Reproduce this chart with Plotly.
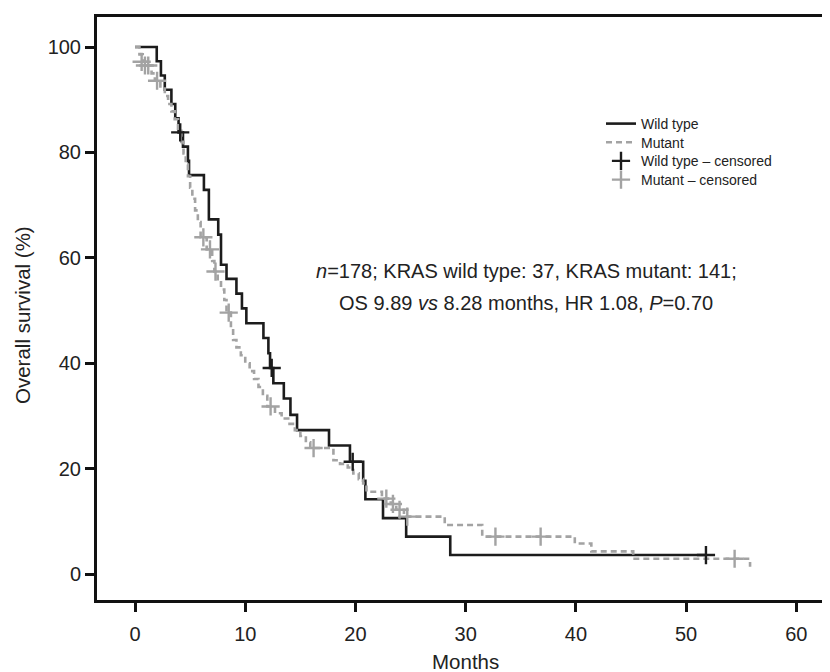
import plotly.graph_objects as go

# ---- data ----
wt_time = [0, 1.97, 2.35, 2.7, 3.3, 3.65, 3.95, 4.35, 4.8, 4.9, 6.25, 6.7, 7.55, 7.8,
           8.3, 9.2, 9.7, 10.1, 11.65, 12.1, 12.25, 12.55, 13.5, 14.1, 14.7, 17.6,
           19.5, 20.7, 20.9, 22.5, 24.6, 28.6, 51.8]
wt_surv = [100, 97.3, 94.6, 91.9, 89.2, 86.5, 83.8, 81.1, 78.4, 75.7, 72.9, 67.3, 64.4, 58.7,
           56.0, 53.2, 50.4, 47.6, 44.8, 41.9, 39.1, 36.2, 33.3, 30.2, 27.3, 24.4,
           21.3, 17.7, 14.2, 10.6, 7.1, 3.6, 3.6]
wt_cens_time = [4.1, 12.4, 19.75, 51.8]
wt_cens_surv = [83.8, 39.1, 21.3, 3.6]

mut_time = [0, 0.4, 0.7, 1.0, 1.5, 1.8, 2.3, 2.7, 3.0, 3.3, 3.6, 3.9, 4.2, 4.4, 4.6, 4.8,
            5.0, 5.2, 5.45, 5.7, 5.95, 6.5, 7.0, 7.2, 7.5, 7.8, 8.1, 8.3, 8.7, 8.9, 9.2,
            9.6, 10.0, 10.4, 10.8, 11.2, 11.6, 12.0, 12.7, 13.3, 13.9, 14.5, 15.0, 15.5,
            15.9, 18.0, 18.6, 19.3, 19.8, 20.3, 20.7, 21.0, 22.4, 23.2, 23.7, 24.4, 28.1,
            31.5, 39.9, 41.4, 45.2, 55.8]
mut_surv = [100, 98.6, 97.2, 96.5, 95.0, 93.6, 92.1, 90.7, 89.2, 87.8, 86.3, 84.1, 82.0,
            79.8, 77.7, 75.5, 73.3, 71.2, 69.0, 66.8, 63.9, 61.6, 59.4, 57.4, 55.7, 54.0,
            52.0, 49.6, 46.7, 44.4, 43.0, 41.5, 40.0, 38.5, 37.0, 35.5, 33.8, 31.8, 30.5,
            29.5, 28.5, 27.3, 26.2, 25.0, 23.9, 21.6, 20.9, 20.2, 19.1, 18.0, 17.2, 15.6,
            14.3, 13.3, 12.2, 10.9, 9.3, 7.1, 5.8, 4.3, 2.9, 1.4]
mut_cens_time = [0.6, 0.9, 1.2, 2.0, 6.2, 6.8, 7.3, 8.5, 12.3, 16.2, 22.8, 23.4, 24.0,
                 24.7, 32.7, 36.8, 54.4]
mut_cens_surv = [97.2, 96.5, 96.5, 93.6, 63.9, 61.6, 57.4, 49.6, 31.8, 23.9, 14.3, 13.3,
                 12.2, 10.9, 7.1, 7.1, 2.9]

x_ticks = [0, 10, 20, 30, 40, 50, 60]
y_ticks = [0, 20, 40, 60, 80, 100]

series_names = ["Wild type", "Mutant", "Wild type \u2013 censored", "Mutant \u2013 censored"]
annot_line1 = "<i>n</i>=178; KRAS wild type: 37, KRAS mutant: 141;"
annot_line2 = "OS 9.89 <i>vs</i> 8.28 months, HR 1.08, <i>P</i>=0.70"
x_title = "Months"
y_title = "Overall survival (%)"

BLACK = "#1c1c1c"
GRAY = "#a3a3a3"
TXT = "#222222"
FONT = "Liberation Sans, Arial, sans-serif"

fig = go.Figure()
fig.add_trace(go.Scatter(x=wt_time, y=wt_surv, mode="lines", line_shape="hv",
                         line=dict(color=BLACK, width=2.6), name=series_names[0],
                         legend="legend"))
fig.add_trace(go.Scatter(x=mut_time, y=mut_surv, mode="lines", line_shape="hv",
                         line=dict(color=GRAY, width=2.6, dash="6px,4px"), name=series_names[1],
                         legend="legend2"))
fig.add_trace(go.Scatter(x=wt_cens_time, y=wt_cens_surv, mode="markers",
                         marker=dict(symbol="cross-thin", size=13,
                                     line=dict(color=BLACK, width=2.4)),
                         name=series_names[2], legend="legend3"))
fig.add_trace(go.Scatter(x=mut_cens_time, y=mut_cens_surv, mode="markers",
                         marker=dict(symbol="cross-thin", size=13,
                                     line=dict(color=GRAY, width=2.4)),
                         name=series_names[3], legend="legend4"))

# the page body has an 8px margin; size the figure so the plot lands where it should
OFF = 8
W, H = 830 - OFF, 672 - OFF
L, R, T, B = 97 - OFF, 5, 17 - OFF, 72
pw, ph = W - L - R, H - T - B

def px2paper(px, py):
    """reference-screen pixel -> paper coords"""
    return (px - OFF - L) / pw, (H - B - (py - OFF)) / ph

ax_common = dict(showline=True, linewidth=3, linecolor="#111", mirror=True,
                 ticks="outside", ticklen=9, tickwidth=2.5, tickcolor="#111",
                 showgrid=False, zeroline=False,
                 tickfont=dict(family=FONT, size=20, color=TXT))

legends = {}
row_y = [124, 142.7, 161.3, 180]
for i, yy in enumerate(row_y):
    key = "legend" if i == 0 else f"legend{i + 1}"
    lx, ly = px2paper(601, yy)
    legends[key] = dict(x=lx, y=ly, xanchor="left", yanchor="middle",
                        font=dict(family=FONT, size=14, color=TXT),
                        bgcolor="rgba(0,0,0,0)", itemwidth=30)

fig.update_layout(
    width=W, height=H,
    margin=dict(l=L, r=R, t=T, b=B, autoexpand=False),
    paper_bgcolor="white", plot_bgcolor="white",
    font=dict(family=FONT, color=TXT),
    xaxis=dict(range=[-3.45, 62.6], tickvals=x_ticks, ticklabelstandoff=5, **ax_common),
    yaxis=dict(range=[-4.93, 105.7], tickvals=y_ticks, **ax_common),
    showlegend=True,
    **legends,
)

ann = []
for text, yy in [(annot_line1, 271), (annot_line2, 303)]:
    ax_, ay_ = px2paper(526, yy)
    ann.append(dict(x=ax_, y=ay_, xref="paper", yref="paper", text=text, showarrow=False,
                    font=dict(family=FONT, size=20, color=TXT),
                    xanchor="center", yanchor="middle"))
xt, yt = px2paper(22, 315)
ann.append(dict(x=xt, y=yt, xref="paper", yref="paper", text=y_title,
                showarrow=False, textangle=-90,
                font=dict(family=FONT, size=20.5, color=TXT), xanchor="center", yanchor="middle"))
xm, ym = px2paper(465, 661)
ann.append(dict(x=xm, y=ym, xref="paper", yref="paper", text=x_title, showarrow=False,
                font=dict(family=FONT, size=20.5, color=TXT), xanchor="center", yanchor="middle"))
fig.update_layout(annotations=ann)

fig.write_html("out.html")
